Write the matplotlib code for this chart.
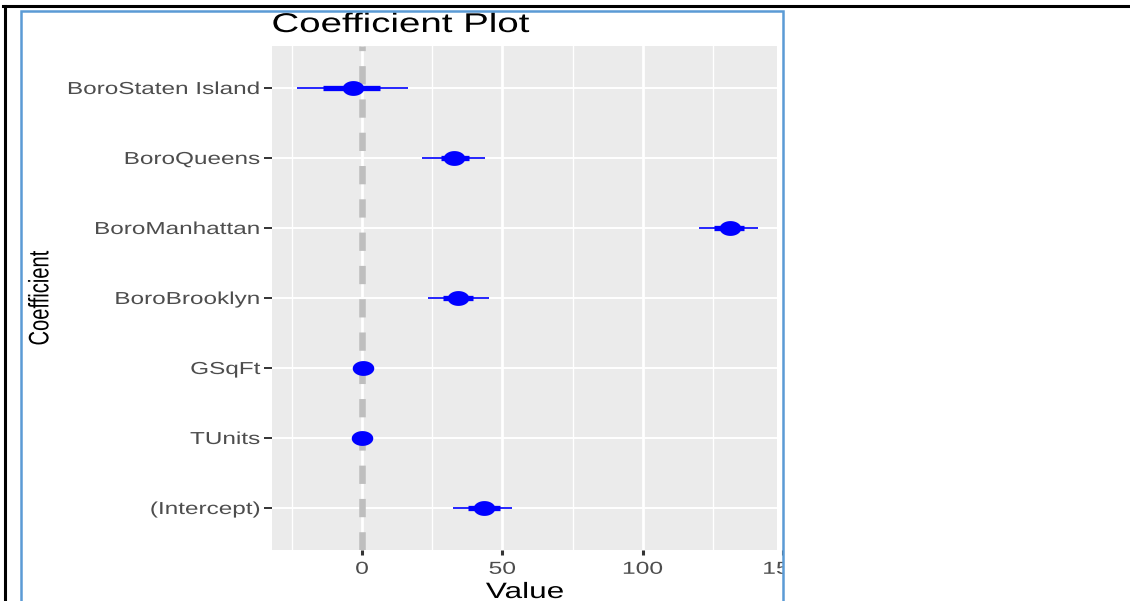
import numpy as np
import matplotlib
matplotlib.use("Agg")
import matplotlib.pyplot as plt
from matplotlib.path import Path
from matplotlib.patches import Rectangle
from matplotlib.lines import Line2D
from matplotlib.patheffects import AbstractPathEffect
from matplotlib.transforms import Affine2D

# coefficient estimates with 1 and 2 standard-error bands
coef_names = ['(Intercept)', 'TUnits', 'GSqFt', 'BoroBrooklyn',
              'BoroManhattan', 'BoroQueens', 'BoroStaten Island']
coef_value = [43.4, 0.1, 0.2, 34.2, 131.0, 32.7, -3.2]
inner_low = [37.8, 0.0, 0.1, 29.0, 125.5, 28.0, -13.8]
inner_high = [49.0, 0.2, 0.3, 39.5, 136.0, 38.2, 6.4]
outer_low = [32.4, -0.1, 0.0, 23.6, 120.0, 21.5, -23.2]
outer_high = [53.6, 0.3, 0.4, 45.4, 141.0, 43.8, 16.4]
x_ticks = [0, 50, 100, 150]
x_minor = [-25, 25, 75, 125]


class WideText(AbstractPathEffect):
    """Draw text stretched horizontally about its left, right or centre."""

    def __init__(self, sx=1.4, anchor='center'):
        super().__init__()
        self.sx = sx
        self.anchor = anchor

    def draw_path(self, renderer, gc, tpath, affine, rgbFace=None):
        ext = tpath.get_extents(affine)
        if self.anchor == 'left':
            x0 = ext.x0
        elif self.anchor == 'right':
            x0 = ext.x1
        else:
            x0 = 0.5 * (ext.x0 + ext.x1)
        stretch = Affine2D().translate(-x0, 0).scale(self.sx, 1).translate(x0, 0)
        renderer.draw_path(gc, tpath, affine + stretch, rgbFace)


plt.rcParams['font.family'] = ['Liberation Sans', 'DejaVu Sans']

W, H = 1130, 601
px_per_unit = (783 - 362) / 150.0
ax_left, ax_right, ax_top, ax_bot = 272, 800, 46, 550
ax_w, ax_h = ax_right - ax_left, ax_bot - ax_top

fig = plt.figure(figsize=(W / 100, H / 100), dpi=100)
ax = fig.add_axes([ax_left / W, 1 - ax_bot / H, ax_w / W, ax_h / H])

ypos = np.arange(len(coef_names))
blue = '#0000FF'

# ggplot-like panel
ax.set_facecolor('#EBEBEB')
for s in ax.spines.values():
    s.set_visible(False)
ax.set_xticks(x_ticks)
ax.set_xticks(x_minor, minor=True)
ax.grid(which='major', axis='x', color='white', linewidth=2.0)
ax.grid(which='major', axis='y', color='white', linewidth=1.4)
ax.grid(which='minor', axis='x', color='white', linewidth=1.0)
ax.set_axisbelow(True)

ax.axvline(0, color='#BEBEBE', linewidth=4.7, linestyle=(0, (2.8, 2.3)),
           zorder=1)

ax.hlines(ypos, outer_low, outer_high, color=blue, linewidth=1.2, zorder=3)
ax.hlines(ypos, inner_low, inner_high, color=blue, linewidth=3.8, zorder=4)

# wide dot
t = np.linspace(0, 2 * np.pi, 60)
dot = Path(np.column_stack([1.45 * np.cos(t), np.sin(t)]), closed=True)
ax.plot(coef_value, ypos, linestyle='none', marker=dot, markersize=15.5,
        color=blue, markeredgewidth=0, zorder=5)

ax.set_xlim(-(362 - ax_left) / px_per_unit, (ax_right - 362) / px_per_unit)
ax.set_ylim(-0.6, len(coef_names) - 0.4)
ax.set_yticks(ypos)
ax.set_yticklabels(coef_names)
ax.tick_params(axis='both', which='major', colors='#333333',
               labelsize=12.5, labelcolor='#4D4D4D')
ax.tick_params(axis='y', length=5.5, width=1.4, pad=3)
ax.tick_params(axis='x', length=3.5, width=2.2, pad=5)
ax.tick_params(axis='x', which='minor', length=0)

for lab in ax.get_yticklabels():
    lab.set_path_effects([WideText(1.4, 'right')])
for lab in ax.get_xticklabels():
    lab.set_path_effects([WideText(1.42, 'center')])

ax.set_xlabel('Value', fontsize=16, path_effects=[WideText(1.42, 'center')])
ax.xaxis.set_label_coords((525 - ax_left) / ax_w, -(598 - ax_bot) / ax_h)
ax.xaxis.label.set_va('baseline')

ax.set_ylabel('Coefficient', fontsize=14.5, path_effects=[WideText(1.4, 'center')])
ax.yaxis.set_label_coords((40 - ax_left) / ax_w, 0.5)
ax.yaxis.label.set_va('center')

ax.set_title('Coefficient Plot', fontsize=19.5, loc='left', pad=0,
             y=(ax_bot - 32) / ax_h, va='baseline',
             path_effects=[WideText(1.42, 'left')])

# the chart image is cut off at the right
fig.add_artist(Rectangle((777 / W, 1 - ax_bot / H), 6 / W, ax_h / H,
                         transform=fig.transFigure, facecolor='white',
                         edgecolor='none', zorder=10))
fig.add_artist(Rectangle((783 / W, 0), 1 - 783 / W, 1, transform=fig.transFigure,
                         facecolor='white', edgecolor='none', zorder=10))
# blue frame and black page edges
fig.add_artist(Rectangle((21 / W, -0.01), (783 - 21) / W, 1 - 10.5 / H + 0.01,
                         transform=fig.transFigure, facecolor='none',
                         edgecolor='#5B9BD5', linewidth=1.8, zorder=11))
fig.add_artist(Line2D([3 / W, 1], [1 - 6 / H, 1 - 6 / H], transform=fig.transFigure,
                      color='black', linewidth=2.2, zorder=12))
fig.add_artist(Line2D([4.5 / W, 4.5 / W], [0, 1 - 6 / H], transform=fig.transFigure,
                      color='black', linewidth=2.2, zorder=12))

fig.savefig('out.png', dpi=100)
